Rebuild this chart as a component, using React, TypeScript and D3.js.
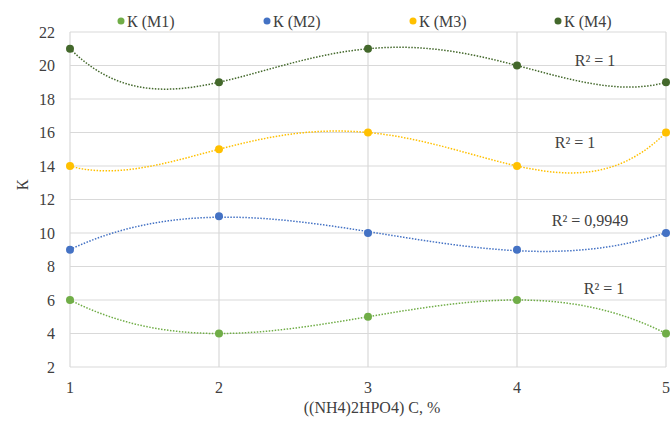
import React from 'react';
import * as d3 from 'd3';

// data
const xValues = [1, 2, 3, 4, 5];
const seriesNames = ['К (M1)', 'К (M2)', 'К (M3)', 'К (M4)'];
const valuesM1 = [6, 4, 5, 6, 4];
const valuesM2 = [9, 11, 10, 9, 10];
const valuesM3 = [14, 15, 16, 14, 16];
const valuesM4 = [21, 19, 21, 20, 19];
const trendOrders = [4, 3, 4, 4];
const r2Labels = ['R² = 1', 'R² = 0,9949', 'R² = 1', 'R² = 1'];
const yTicks = [2, 4, 6, 8, 10, 12, 14, 16, 18, 20, 22];
const colors = ['#70ad47', '#4472c4', '#ffc000', '#43682b'];

const allValues = [valuesM1, valuesM2, valuesM3, valuesM4];

// least squares polynomial fit, like excel's trendline
function polyFit(xs: number[], ys: number[], order: number): number[] {
    const n = order + 1;
    const A: number[][] = [];
    for (let r = 0; r < n; r++) {
        const row: number[] = [];
        for (let c = 0; c < n; c++) row.push(d3.sum(xs, x => Math.pow(x, r + c)));
        row.push(d3.sum(xs, (x, i) => ys[i] * Math.pow(x, r)));
        A.push(row);
    }
    for (let i = 0; i < n; i++) {
        let p = i;
        for (let k = i + 1; k < n; k++) if (Math.abs(A[k][i]) > Math.abs(A[p][i])) p = k;
        [A[i], A[p]] = [A[p], A[i]];
        for (let k = i + 1; k < n; k++) {
            const f = A[k][i] / A[i][i];
            for (let c = i; c <= n; c++) A[k][c] -= f * A[i][c];
        }
    }
    const coef = new Array(n).fill(0);
    for (let i = n - 1; i >= 0; i--) {
        let s = A[i][n];
        for (let c = i + 1; c < n; c++) s -= A[i][c] * coef[c];
        coef[i] = s / A[i][i];
    }
    return coef;
}

const width = 672, height = 421;
const margin = { top: 32, right: 6, bottom: 54, left: 70 };

export default function App() {
    const x = d3.scaleLinear().domain([1, 5]).range([margin.left, width - margin.right]);
    const y = d3.scaleLinear().domain([2, 22]).range([height - margin.bottom, margin.top]);
    const font = '"Liberation Serif", "Times New Roman", serif';
    const fs = 16;

    const line = d3.line<[number, number]>().x(d => x(d[0])).y(d => y(d[1]));
    const samples = d3.range(1, 5.0001, 0.02);

    // label positions for R² texts (x, y in px)
    const r2Pos = [[604, 294], [590, 226], [575, 148], [595, 66]];
    const legendX = [121, 267, 413, 558];

    return (
        <svg width={width} height={height} style={{ position: 'absolute', left: 0, top: 0, fontFamily: font }}>
            <rect width={width} height={height} fill="#fff" />
            {yTicks.map(t => (
                <g key={'y' + t}>
                    <line x1={x(1)} x2={x(5)} y1={y(t)} y2={y(t)} stroke="#d9d9d9" strokeWidth={1.2} />
                    <text x={55} y={y(t)} dy="0.35em" textAnchor="end" fontSize={fs} fill="#404040">{t}</text>
                </g>
            ))}
            {xValues.map(v => (
                <g key={'x' + v}>
                    <line x1={x(v)} x2={x(v)} y1={y(2)} y2={y(22)} stroke="#d9d9d9" strokeWidth={1.2} />
                    <text x={x(v)} y={y(2) + 26} textAnchor="middle" fontSize={fs} fill="#404040">{v}</text>
                </g>
            ))}
            <text x={372} y={413} textAnchor="middle" fontSize={fs} fill="#404040">((NH4)2HPO4) C, %</text>
            <text transform={`translate(22,185) rotate(-90)`} textAnchor="middle" dy="0.35em" fontSize={fs} fill="#404040">К</text>

            {allValues.map((vals, si) => {
                const coef = polyFit(xValues, vals, trendOrders[si]);
                const pts: [number, number][] = samples.map(s => [s, d3.sum(coef, (c, k) => c * Math.pow(s, k))]);
                return (
                    <g key={'s' + si}>
                        <path d={line(pts) || ''} fill="none" stroke={colors[si]} strokeWidth={1.5} strokeDasharray="1.5,1.5" />
                        {vals.map((v, i) => (
                            <circle key={i} cx={x(xValues[i])} cy={y(v)} r={4} fill={colors[si]} />
                        ))}
                        <text x={r2Pos[si][0]} y={r2Pos[si][1]} textAnchor="middle" fontSize={fs} fill="#404040">{r2Labels[si]}</text>
                    </g>
                );
            })}

            {seriesNames.map((name, i) => (
                <g key={'l' + i}>
                    <circle cx={legendX[i]} cy={21} r={3.5} fill={colors[i]} />
                    <text x={legendX[i] + 6} y={21} dy="0.35em" fontSize={fs} fill="#404040">{name}</text>
                </g>
            ))}
        </svg>
    );
}
